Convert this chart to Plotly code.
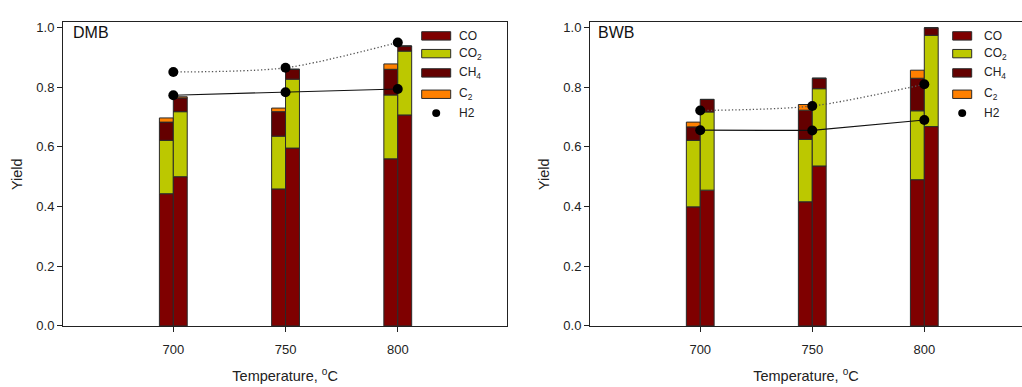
import numpy as np
import plotly.graph_objects as go

W, H = 1022, 387

temps = [700, 750, 800]
components = ["CO", "CO<sub>2</sub>", "CH<sub>4</sub>", "C<sub>2</sub>"]
colors = ["#7F0000", "#BCC800", "#640000", "#FF8000"]

# DMB panel - left bar / right bar at each temperature
dmb_left_CO = [0.443, 0.459, 0.560]
dmb_left_CO2 = [0.179, 0.177, 0.214]
dmb_left_CH4 = [0.061, 0.082, 0.086]
dmb_left_C2 = [0.014, 0.012, 0.018]
dmb_right_CO = [0.500, 0.596, 0.707]
dmb_right_CO2 = [0.218, 0.231, 0.214]
dmb_right_CH4 = [0.046, 0.033, 0.017]
dmb_right_C2 = [0.004, 0.0, 0.0]
dmb_h2_solid = [0.773, 0.783, 0.794]
dmb_h2_dotted = [0.851, 0.865, 0.950]

# BWB panel
bwb_left_CO = [0.399, 0.416, 0.490]
bwb_left_CO2 = [0.223, 0.209, 0.231]
bwb_left_CH4 = [0.045, 0.098, 0.109]
bwb_left_C2 = [0.016, 0.019, 0.027]
bwb_right_CO = [0.455, 0.536, 0.668]
bwb_right_CO2 = [0.262, 0.259, 0.306]
bwb_right_CH4 = [0.042, 0.035, 0.025]
bwb_right_C2 = [0.0, 0.0, 0.0]
bwb_h2_solid = [0.656, 0.655, 0.690]
bwb_h2_dotted = [0.722, 0.737, 0.810]

y_ticks = [0.0, 0.2, 0.4, 0.6, 0.8, 1.0]
x_ticks = [700, 750, 800]

FONT = "Liberation Sans, Arial, sans-serif"
BAR_W = 6.2

fig = go.Figure()


def add_stack(stack, offset, xa, ya):
    base = np.zeros(len(temps))
    for vals, col in zip(stack, colors):
        v = np.array(vals)
        fig.add_trace(go.Bar(
            x=temps, y=v, base=base.copy(), width=BAR_W, offset=offset,
            marker=dict(color=col, line=dict(color="#2a2a2a", width=1)),
            xaxis=xa, yaxis=ya, showlegend=False, hoverinfo="skip"))
        base = base + v


def add_h2(solid, dotted, xa, ya):
    fig.add_trace(go.Scatter(x=temps, y=dotted, mode="lines",
                             line=dict(color="#555555", width=1.3, dash="1.3px,2.2px", shape="spline", smoothing=0.8),
                             xaxis=xa, yaxis=ya, showlegend=False))
    fig.add_trace(go.Scatter(x=temps, y=solid, mode="lines",
                             line=dict(color="#111111", width=1.2),
                             xaxis=xa, yaxis=ya, showlegend=False))
    fig.add_trace(go.Scatter(x=temps + temps, y=solid + dotted, mode="markers",
                             marker=dict(color="black", size=10),
                             xaxis=xa, yaxis=ya, showlegend=False))


add_stack([dmb_left_CO, dmb_left_CO2, dmb_left_CH4, dmb_left_C2], -BAR_W, "x", "y")
add_stack([dmb_right_CO, dmb_right_CO2, dmb_right_CH4, dmb_right_C2], 0, "x", "y")
add_h2(dmb_h2_solid, dmb_h2_dotted, "x", "y")
add_stack([bwb_left_CO, bwb_left_CO2, bwb_left_CH4, bwb_left_C2], -BAR_W, "x2", "y2")
add_stack([bwb_right_CO, bwb_right_CO2, bwb_right_CH4, bwb_right_C2], 0, "x2", "y2")
add_h2(bwb_h2_solid, bwb_h2_dotted, "x2", "y2")


def px(x):
    return x / W


def py(y):
    return 1 - y / H


ydom = [py(332.5), py(21)]
tickfont = dict(family=FONT, size=13, color="#222222")
titlefont = dict(family=FONT, size=14.5, color="#222222")

xcommon = dict(tickvals=x_ticks, ticks="outside", ticklen=5, tickcolor="#222222",
               showline=True, linecolor="#222222", linewidth=1, showgrid=False, zeroline=False,
               tickfont=tickfont, mirror=True, ticklabelstandoff=6,
               title=dict(text="Temperature, <sup>o</sup>C", font=titlefont, standoff=15))
ycommon = dict(tickvals=y_ticks, tickformat=".1f", ticks="outside", ticklen=5, tickcolor="#222222",
               showline=True, linecolor="#222222", linewidth=1, showgrid=False, zeroline=False,
               tickfont=tickfont, range=[0, 1.017], domain=ydom,
               title=dict(text="Yield", font=titlefont, standoff=10))

fig.update_layout(
    width=W, height=H, margin=dict(l=0, r=0, t=0, b=0),
    paper_bgcolor="white", plot_bgcolor="white", barmode="overlay",
    showlegend=False,
    xaxis=dict(xcommon, domain=[px(63), px(507.3)], range=[650.85, 848.8], anchor="y"),
    yaxis=dict(ycommon, anchor="x", mirror=True),
    xaxis2=dict(xcommon, domain=[px(590), 1.0], range=[650.8, 843.6], anchor="y2"),
    yaxis2=dict(ycommon, anchor="x2", mirror=False),
    font=dict(family=FONT),
)

# panel labels
for name, xpix in [("DMB", 71), ("BWB", 596)]:
    fig.add_annotation(text=name, x=px(xpix), y=py(31.5), xref="paper", yref="paper",
                       xanchor="left", yanchor="middle", showarrow=False,
                       font=dict(family=FONT, size=16, color="#111111"))

# legends (drawn per panel)
rows = [34.8, 53.0, 72.8, 94.7]
h2_row = 114
for x0, x1, xt in [(421.7, 450.7, 457), (952.7, 971.7, 981.5)]:
    for yc, col, label in zip(rows, colors, components):
        fig.add_shape(type="rect", xref="paper", yref="paper",
                      x0=px(x0), x1=px(x1), y0=py(yc + 4.3), y1=py(yc - 4.3),
                      fillcolor=col, line=dict(color="#2a2a2a", width=1))
        fig.add_annotation(text=label, x=px(xt), y=py(yc), xref="paper", yref="paper",
                           xanchor="left", yanchor="middle", showarrow=False,
                           font=dict(family=FONT, size=12, color="#222222"))
    xc = (x0 + x1) / 2
    fig.add_shape(type="circle", xref="paper", yref="paper",
                  x0=px(xc - 4), x1=px(xc + 4), y0=py(h2_row + 4), y1=py(h2_row - 4),
                  fillcolor="black", line=dict(color="black", width=0))
    fig.add_annotation(text="H2", x=px(xt), y=py(h2_row), xref="paper", yref="paper",
                       xanchor="left", yanchor="middle", showarrow=False,
                       font=dict(family=FONT, size=12, color="#222222"))

fig.write_html("out.html")
